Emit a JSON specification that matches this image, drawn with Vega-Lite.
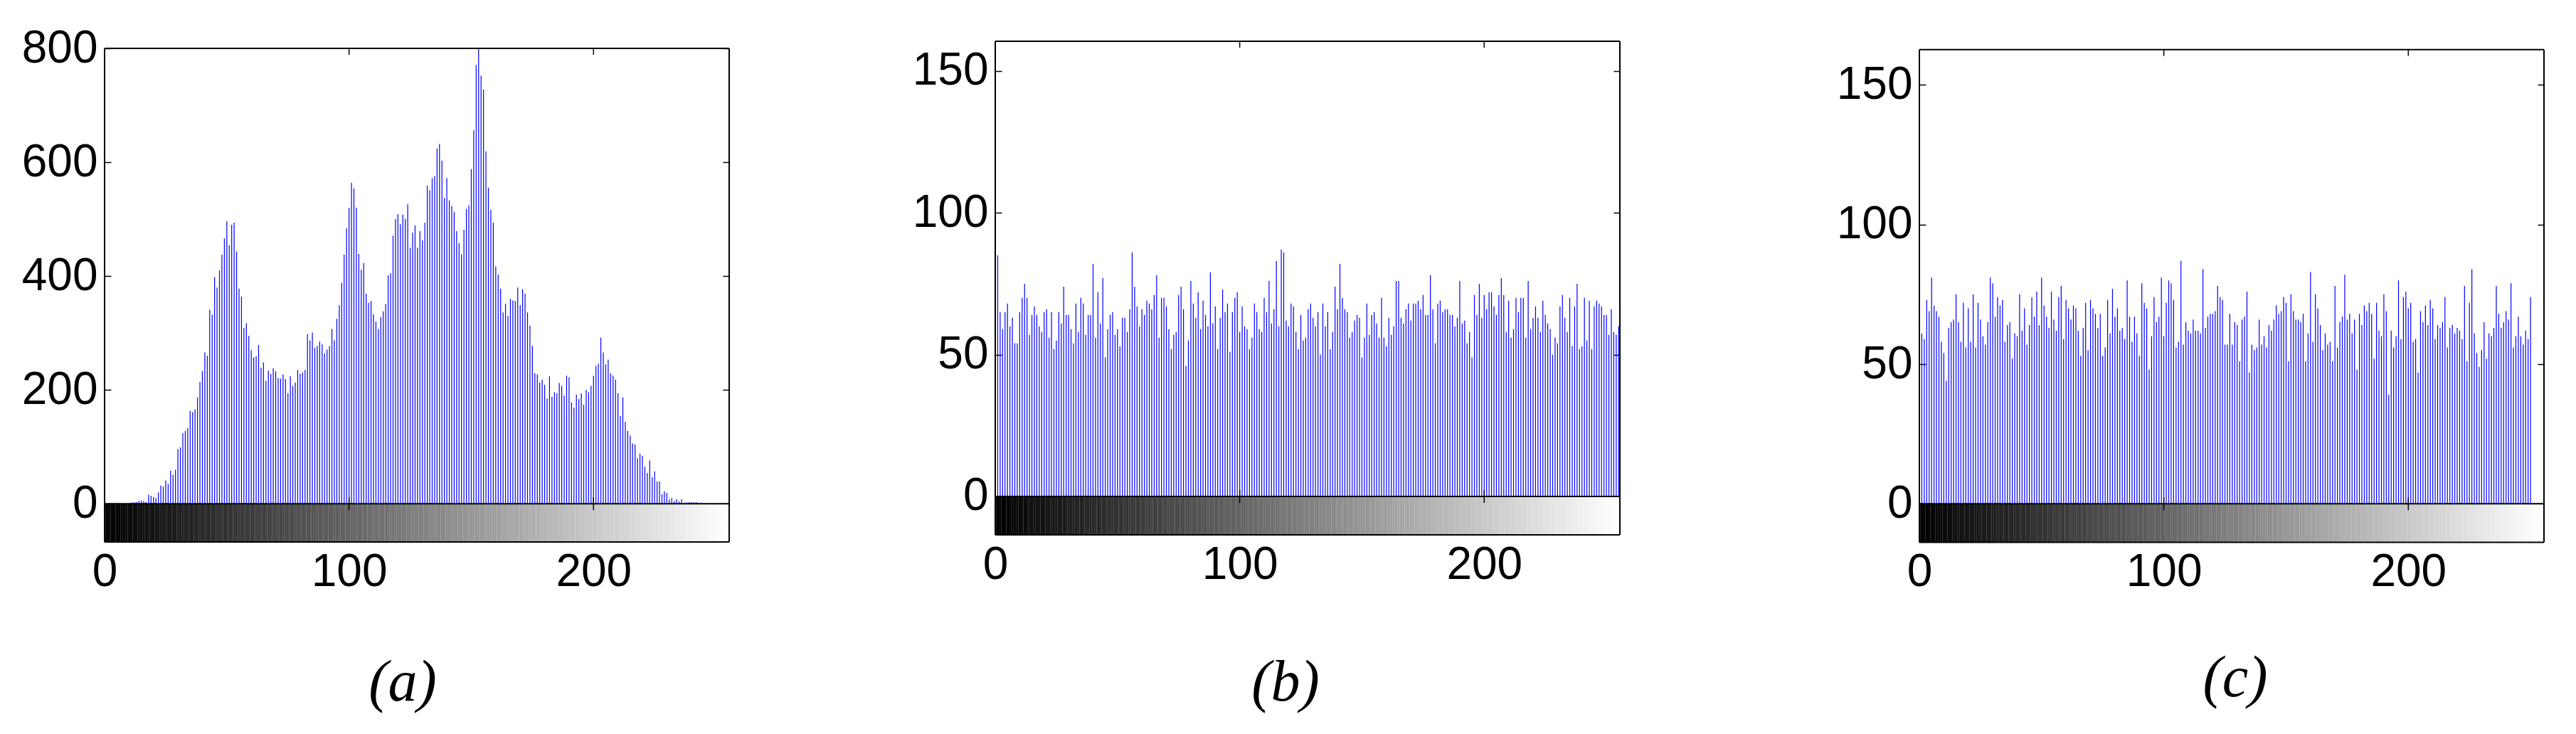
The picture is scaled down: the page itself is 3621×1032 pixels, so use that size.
{
"$schema": "https://vega.github.io/schema/vega-lite/v6.json",
"padding": {"left": 30, "top": 36, "right": 5, "bottom": 5},
"background": "white",
"config": {
  "view": {"stroke": null},
  "axis": {"grid": false, "domain": false, "tickColor": "black", "tickWidth": 1.5, "labelColor": "black", "labelFont": "Liberation Sans", "labelFontSize": 64, "labelOverlap": false, "labelFlush": false, "labelBound": false}
},
"datasets": {
"xt": [{"t": 100}, {"t": 200}],
"ha": [
{"v":0,"n":0},{"v":1,"n":0},{"v":2,"n":0},{"v":3,"n":0},{"v":4,"n":1},{"v":5,"n":1},{"v":6,"n":1},{"v":7,"n":0},{"v":8,"n":0},{"v":9,"n":0},
{"v":10,"n":1},{"v":11,"n":2},{"v":12,"n":3},{"v":13,"n":3},{"v":14,"n":5},{"v":15,"n":6},{"v":16,"n":5},{"v":17,"n":3},{"v":18,"n":16},{"v":19,"n":14},
{"v":20,"n":12},{"v":21,"n":10},{"v":22,"n":20},{"v":23,"n":32},{"v":24,"n":30},{"v":25,"n":41},{"v":26,"n":35},{"v":27,"n":58},{"v":28,"n":51},{"v":29,"n":60},
{"v":30,"n":96},{"v":31,"n":99},{"v":32,"n":124},{"v":33,"n":128},{"v":34,"n":133},{"v":35,"n":163},{"v":36,"n":161},{"v":37,"n":166},{"v":38,"n":187},{"v":39,"n":214},
{"v":40,"n":233},{"v":41,"n":266},{"v":42,"n":260},{"v":43,"n":341},{"v":44,"n":332},{"v":45,"n":398},{"v":46,"n":380},{"v":47,"n":410},{"v":48,"n":438},{"v":49,"n":466},
{"v":50,"n":496},{"v":51,"n":454},{"v":52,"n":490},{"v":53,"n":494},{"v":54,"n":443},{"v":55,"n":378},{"v":56,"n":364},{"v":57,"n":309},{"v":58,"n":317},{"v":59,"n":295},
{"v":60,"n":270},{"v":61,"n":257},{"v":62,"n":259},{"v":63,"n":279},{"v":64,"n":239},{"v":65,"n":248},{"v":66,"n":216},{"v":67,"n":234},{"v":68,"n":228},{"v":69,"n":238},
{"v":70,"n":233},{"v":71,"n":221},{"v":72,"n":220},{"v":73,"n":227},{"v":74,"n":219},{"v":75,"n":194},{"v":76,"n":224},{"v":77,"n":207},{"v":78,"n":213},{"v":79,"n":235},
{"v":80,"n":228},{"v":81,"n":231},{"v":82,"n":235},{"v":83,"n":298},{"v":84,"n":287},{"v":85,"n":301},{"v":86,"n":274},{"v":87,"n":277},{"v":88,"n":285},{"v":89,"n":280},
{"v":90,"n":264},{"v":91,"n":271},{"v":92,"n":277},{"v":93,"n":307},{"v":94,"n":287},{"v":95,"n":325},{"v":96,"n":349},{"v":97,"n":388},{"v":98,"n":438},{"v":99,"n":484},
{"v":100,"n":520},{"v":101,"n":564},{"v":102,"n":554},{"v":103,"n":520},{"v":104,"n":439},{"v":105,"n":411},{"v":106,"n":423},{"v":107,"n":369},{"v":108,"n":353},{"v":109,"n":356},
{"v":110,"n":333},{"v":111,"n":320},{"v":112,"n":307},{"v":113,"n":328},{"v":114,"n":338},{"v":115,"n":351},{"v":116,"n":401},{"v":117,"n":405},{"v":118,"n":471},{"v":119,"n":500},
{"v":120,"n":509},{"v":121,"n":491},{"v":122,"n":508},{"v":123,"n":500},{"v":124,"n":526},{"v":125,"n":450},{"v":126,"n":476},{"v":127,"n":489},{"v":128,"n":450},{"v":129,"n":479},
{"v":130,"n":463},{"v":131,"n":494},{"v":132,"n":559},{"v":133,"n":551},{"v":134,"n":572},{"v":135,"n":575},{"v":136,"n":624},{"v":137,"n":632},{"v":138,"n":603},{"v":139,"n":537},
{"v":140,"n":572},{"v":141,"n":533},{"v":142,"n":523},{"v":143,"n":513},{"v":144,"n":479},{"v":145,"n":458},{"v":146,"n":438},{"v":147,"n":481},{"v":148,"n":518},{"v":149,"n":524},
{"v":150,"n":588},{"v":151,"n":656},{"v":152,"n":771},{"v":153,"n":800},{"v":154,"n":752},{"v":155,"n":728},{"v":156,"n":619},{"v":157,"n":555},{"v":158,"n":516},{"v":159,"n":494},
{"v":160,"n":417},{"v":161,"n":403},{"v":162,"n":378},{"v":163,"n":336},{"v":164,"n":351},{"v":165,"n":330},{"v":166,"n":360},{"v":167,"n":357},{"v":168,"n":356},{"v":169,"n":380},
{"v":170,"n":349},{"v":171,"n":377},{"v":172,"n":369},{"v":173,"n":336},{"v":174,"n":313},{"v":175,"n":277},{"v":176,"n":229},{"v":177,"n":227},{"v":178,"n":213},{"v":179,"n":218},
{"v":180,"n":209},{"v":181,"n":185},{"v":182,"n":224},{"v":183,"n":188},{"v":184,"n":196},{"v":185,"n":194},{"v":186,"n":212},{"v":187,"n":207},{"v":188,"n":190},{"v":189,"n":225},
{"v":190,"n":222},{"v":191,"n":178},{"v":192,"n":169},{"v":193,"n":192},{"v":194,"n":184},{"v":195,"n":194},{"v":196,"n":174},{"v":197,"n":200},{"v":198,"n":196},{"v":199,"n":207},
{"v":200,"n":225},{"v":201,"n":242},{"v":202,"n":246},{"v":203,"n":292},{"v":204,"n":266},{"v":205,"n":245},{"v":206,"n":253},{"v":207,"n":229},{"v":208,"n":225},{"v":209,"n":218},
{"v":210,"n":194},{"v":211,"n":154},{"v":212,"n":187},{"v":213,"n":144},{"v":214,"n":128},{"v":215,"n":120},{"v":216,"n":106},{"v":217,"n":104},{"v":218,"n":80},{"v":219,"n":88},
{"v":220,"n":84},{"v":221,"n":65},{"v":222,"n":54},{"v":223,"n":76},{"v":224,"n":47},{"v":225,"n":57},{"v":226,"n":39},{"v":227,"n":39},{"v":228,"n":17},{"v":229,"n":22},
{"v":230,"n":19},{"v":231,"n":8},{"v":232,"n":10},{"v":233,"n":5},{"v":234,"n":8},{"v":235,"n":4},{"v":236,"n":8},{"v":237,"n":1},{"v":238,"n":3},{"v":239,"n":3},
{"v":240,"n":3},{"v":241,"n":3},{"v":242,"n":3},{"v":243,"n":1},{"v":244,"n":2},{"v":245,"n":0},{"v":246,"n":0},{"v":247,"n":0},{"v":248,"n":0},{"v":249,"n":0},
{"v":250,"n":0},{"v":251,"n":0},{"v":252,"n":0},{"v":253,"n":0},{"v":254,"n":0},{"v":255,"n":0}
],
"hb": [
{"v":0,"n":65},{"v":1,"n":85},{"v":2,"n":65},{"v":3,"n":59},{"v":4,"n":65},{"v":5,"n":68},{"v":6,"n":60},{"v":7,"n":63},{"v":8,"n":54},{"v":9,"n":54},
{"v":10,"n":65},{"v":11,"n":70},{"v":12,"n":75},{"v":13,"n":70},{"v":14,"n":57},{"v":15,"n":64},{"v":16,"n":67},{"v":17,"n":64},{"v":18,"n":60},{"v":19,"n":58},
{"v":20,"n":65},{"v":21,"n":66},{"v":22,"n":56},{"v":23,"n":65},{"v":24,"n":52},{"v":25,"n":55},{"v":26,"n":65},{"v":27,"n":61},{"v":28,"n":74},{"v":29,"n":64},
{"v":30,"n":64},{"v":31,"n":59},{"v":32,"n":54},{"v":33,"n":68},{"v":34,"n":58},{"v":35,"n":70},{"v":36,"n":68},{"v":37,"n":57},{"v":38,"n":64},{"v":39,"n":64},
{"v":40,"n":82},{"v":41,"n":56},{"v":42,"n":72},{"v":43,"n":61},{"v":44,"n":77},{"v":45,"n":49},{"v":46,"n":59},{"v":47,"n":64},{"v":48,"n":65},{"v":49,"n":57},
{"v":50,"n":59},{"v":51,"n":53},{"v":52,"n":63},{"v":53,"n":63},{"v":54,"n":58},{"v":55,"n":66},{"v":56,"n":86},{"v":57,"n":74},{"v":58,"n":67},{"v":59,"n":60},
{"v":60,"n":66},{"v":61,"n":64},{"v":62,"n":69},{"v":63,"n":68},{"v":64,"n":66},{"v":65,"n":71},{"v":66,"n":78},{"v":67,"n":56},{"v":68,"n":70},{"v":69,"n":70},
{"v":70,"n":67},{"v":71,"n":59},{"v":72,"n":52},{"v":73,"n":57},{"v":74,"n":58},{"v":75,"n":71},{"v":76,"n":74},{"v":77,"n":66},{"v":78,"n":46},{"v":79,"n":55},
{"v":80,"n":76},{"v":81,"n":68},{"v":82,"n":63},{"v":83,"n":72},{"v":84,"n":59},{"v":85,"n":69},{"v":86,"n":64},{"v":87,"n":60},{"v":88,"n":79},{"v":89,"n":61},
{"v":90,"n":67},{"v":91,"n":52},{"v":92,"n":63},{"v":93,"n":73},{"v":94,"n":65},{"v":95,"n":68},{"v":96,"n":51},{"v":97,"n":65},{"v":98,"n":70},{"v":99,"n":72},
{"v":100,"n":58},{"v":101,"n":67},{"v":102,"n":60},{"v":103,"n":59},{"v":104,"n":52},{"v":105,"n":56},{"v":106,"n":68},{"v":107,"n":65},{"v":108,"n":59},{"v":109,"n":58},
{"v":110,"n":70},{"v":111,"n":65},{"v":112,"n":76},{"v":113,"n":61},{"v":114,"n":66},{"v":115,"n":83},{"v":116,"n":60},{"v":117,"n":87},{"v":118,"n":86},{"v":119,"n":62},
{"v":120,"n":60},{"v":121,"n":68},{"v":122,"n":67},{"v":123,"n":58},{"v":124,"n":52},{"v":125,"n":64},{"v":126,"n":55},{"v":127,"n":56},{"v":128,"n":66},{"v":129,"n":68},
{"v":130,"n":63},{"v":131,"n":60},{"v":132,"n":65},{"v":133,"n":50},{"v":134,"n":68},{"v":135,"n":60},{"v":136,"n":65},{"v":137,"n":52},{"v":138,"n":58},{"v":139,"n":74},
{"v":140,"n":66},{"v":141,"n":82},{"v":142,"n":70},{"v":143,"n":66},{"v":144,"n":65},{"v":145,"n":56},{"v":146,"n":58},{"v":147,"n":62},{"v":148,"n":64},{"v":149,"n":63},
{"v":150,"n":49},{"v":151,"n":56},{"v":152,"n":68},{"v":153,"n":57},{"v":154,"n":64},{"v":155,"n":65},{"v":156,"n":61},{"v":157,"n":56},{"v":158,"n":70},{"v":159,"n":56},
{"v":160,"n":53},{"v":161,"n":63},{"v":162,"n":57},{"v":163,"n":60},{"v":164,"n":76},{"v":165,"n":76},{"v":166,"n":63},{"v":167,"n":61},{"v":168,"n":66},{"v":169,"n":68},
{"v":170,"n":62},{"v":171,"n":68},{"v":172,"n":68},{"v":173,"n":69},{"v":174,"n":66},{"v":175,"n":71},{"v":176,"n":64},{"v":177,"n":64},{"v":178,"n":78},{"v":179,"n":66},
{"v":180,"n":54},{"v":181,"n":68},{"v":182,"n":69},{"v":183,"n":65},{"v":184,"n":66},{"v":185,"n":66},{"v":186,"n":64},{"v":187,"n":64},{"v":188,"n":60},{"v":189,"n":63},
{"v":190,"n":76},{"v":191,"n":61},{"v":192,"n":62},{"v":193,"n":54},{"v":194,"n":58},{"v":195,"n":49},{"v":196,"n":71},{"v":197,"n":64},{"v":198,"n":75},{"v":199,"n":63},
{"v":200,"n":71},{"v":201,"n":66},{"v":202,"n":72},{"v":203,"n":72},{"v":204,"n":67},{"v":205,"n":64},{"v":206,"n":71},{"v":207,"n":77},{"v":208,"n":71},{"v":209,"n":58},
{"v":210,"n":69},{"v":211,"n":56},{"v":212,"n":59},{"v":213,"n":70},{"v":214,"n":65},{"v":215,"n":70},{"v":216,"n":70},{"v":217,"n":56},{"v":218,"n":76},{"v":219,"n":59},
{"v":220,"n":63},{"v":221,"n":67},{"v":222,"n":63},{"v":223,"n":58},{"v":224,"n":69},{"v":225,"n":64},{"v":226,"n":61},{"v":227,"n":59},{"v":228,"n":50},{"v":229,"n":56},
{"v":230,"n":54},{"v":231,"n":67},{"v":232,"n":71},{"v":233,"n":63},{"v":234,"n":58},{"v":235,"n":70},{"v":236,"n":53},{"v":237,"n":67},{"v":238,"n":75},{"v":239,"n":52},
{"v":240,"n":53},{"v":241,"n":70},{"v":242,"n":55},{"v":243,"n":69},{"v":244,"n":52},{"v":245,"n":67},{"v":246,"n":69},{"v":247,"n":68},{"v":248,"n":67},{"v":249,"n":64},
{"v":250,"n":64},{"v":251,"n":57},{"v":252,"n":66},{"v":253,"n":58},{"v":254,"n":57},{"v":255,"n":60}
],
"hc": [
{"v":0,"n":67},{"v":1,"n":61},{"v":2,"n":59},{"v":3,"n":73},{"v":4,"n":69},{"v":5,"n":81},{"v":6,"n":71},{"v":7,"n":69},{"v":8,"n":67},{"v":9,"n":58},
{"v":10,"n":54},{"v":11,"n":44},{"v":12,"n":63},{"v":13,"n":65},{"v":14,"n":66},{"v":15,"n":75},{"v":16,"n":65},{"v":17,"n":58},{"v":18,"n":72},{"v":19,"n":56},
{"v":20,"n":70},{"v":21,"n":58},{"v":22,"n":75},{"v":23,"n":56},{"v":24,"n":72},{"v":25,"n":66},{"v":26,"n":60},{"v":27,"n":57},{"v":28,"n":65},{"v":29,"n":81},
{"v":30,"n":79},{"v":31,"n":67},{"v":32,"n":74},{"v":33,"n":71},{"v":34,"n":73},{"v":35,"n":58},{"v":36,"n":64},{"v":37,"n":65},{"v":38,"n":52},{"v":39,"n":61},
{"v":40,"n":60},{"v":41,"n":75},{"v":42,"n":62},{"v":43,"n":70},{"v":44,"n":57},{"v":45,"n":64},{"v":46,"n":74},{"v":47,"n":67},{"v":48,"n":76},{"v":49,"n":64},
{"v":50,"n":81},{"v":51,"n":71},{"v":52,"n":67},{"v":53,"n":63},{"v":54,"n":76},{"v":55,"n":66},{"v":56,"n":62},{"v":57,"n":74},{"v":58,"n":78},{"v":59,"n":59},
{"v":60,"n":73},{"v":61,"n":70},{"v":62,"n":66},{"v":63,"n":71},{"v":64,"n":70},{"v":65,"n":62},{"v":66,"n":53},{"v":67,"n":63},{"v":68,"n":72},{"v":69,"n":55},
{"v":70,"n":73},{"v":71,"n":70},{"v":72,"n":68},{"v":73,"n":63},{"v":74,"n":68},{"v":75,"n":53},{"v":76,"n":56},{"v":77,"n":73},{"v":78,"n":61},{"v":79,"n":77},
{"v":80,"n":67},{"v":81,"n":70},{"v":82,"n":62},{"v":83,"n":63},{"v":84,"n":59},{"v":85,"n":80},{"v":86,"n":67},{"v":87,"n":58},{"v":88,"n":67},{"v":89,"n":61},
{"v":90,"n":53},{"v":91,"n":79},{"v":92,"n":72},{"v":93,"n":70},{"v":94,"n":48},{"v":95,"n":60},{"v":96,"n":74},{"v":97,"n":65},{"v":98,"n":67},{"v":99,"n":81},
{"v":100,"n":60},{"v":101,"n":72},{"v":102,"n":80},{"v":103,"n":79},{"v":104,"n":73},{"v":105,"n":56},{"v":106,"n":58},{"v":107,"n":87},{"v":108,"n":57},{"v":109,"n":65},
{"v":110,"n":62},{"v":111,"n":61},{"v":112,"n":66},{"v":113,"n":62},{"v":114,"n":62},{"v":115,"n":61},{"v":116,"n":84},{"v":117,"n":63},{"v":118,"n":67},{"v":119,"n":68},
{"v":120,"n":68},{"v":121,"n":69},{"v":122,"n":78},{"v":123,"n":74},{"v":124,"n":73},{"v":125,"n":57},{"v":126,"n":57},{"v":127,"n":68},{"v":128,"n":57},{"v":129,"n":65},
{"v":130,"n":64},{"v":131,"n":51},{"v":132,"n":66},{"v":133,"n":67},{"v":134,"n":76},{"v":135,"n":47},{"v":136,"n":57},{"v":137,"n":55},{"v":138,"n":56},{"v":139,"n":66},
{"v":140,"n":57},{"v":141,"n":60},{"v":142,"n":56},{"v":143,"n":64},{"v":144,"n":62},{"v":145,"n":66},{"v":146,"n":71},{"v":147,"n":68},{"v":148,"n":69},{"v":149,"n":74},
{"v":150,"n":72},{"v":151,"n":51},{"v":152,"n":75},{"v":153,"n":69},{"v":154,"n":66},{"v":155,"n":66},{"v":156,"n":65},{"v":157,"n":68},{"v":158,"n":51},{"v":159,"n":61},
{"v":160,"n":83},{"v":161,"n":58},{"v":162,"n":75},{"v":163,"n":70},{"v":164,"n":64},{"v":165,"n":55},{"v":166,"n":61},{"v":167,"n":57},{"v":168,"n":58},{"v":169,"n":51},
{"v":170,"n":78},{"v":171,"n":56},{"v":172,"n":65},{"v":173,"n":67},{"v":174,"n":82},{"v":175,"n":66},{"v":176,"n":68},{"v":177,"n":61},{"v":178,"n":66},{"v":179,"n":48},
{"v":180,"n":68},{"v":181,"n":64},{"v":182,"n":71},{"v":183,"n":69},{"v":184,"n":72},{"v":185,"n":68},{"v":186,"n":52},{"v":187,"n":72},{"v":188,"n":62},{"v":189,"n":60},
{"v":190,"n":75},{"v":191,"n":69},{"v":192,"n":39},{"v":193,"n":62},{"v":194,"n":56},{"v":195,"n":60},{"v":196,"n":80},{"v":197,"n":59},{"v":198,"n":74},{"v":199,"n":76},
{"v":200,"n":70},{"v":201,"n":72},{"v":202,"n":58},{"v":203,"n":59},{"v":204,"n":47},{"v":205,"n":69},{"v":206,"n":65},{"v":207,"n":71},{"v":208,"n":64},{"v":209,"n":73},
{"v":210,"n":70},{"v":211,"n":59},{"v":212,"n":64},{"v":213,"n":63},{"v":214,"n":65},{"v":215,"n":74},{"v":216,"n":56},{"v":217,"n":63},{"v":218,"n":64},{"v":219,"n":61},
{"v":220,"n":63},{"v":221,"n":62},{"v":222,"n":59},{"v":223,"n":78},{"v":224,"n":51},{"v":225,"n":72},{"v":226,"n":84},{"v":227,"n":61},{"v":228,"n":54},{"v":229,"n":49},
{"v":230,"n":55},{"v":231,"n":65},{"v":232,"n":52},{"v":233,"n":61},{"v":234,"n":60},{"v":235,"n":63},{"v":236,"n":78},{"v":237,"n":68},{"v":238,"n":63},{"v":239,"n":65},
{"v":240,"n":69},{"v":241,"n":66},{"v":242,"n":79},{"v":243,"n":56},{"v":244,"n":60},{"v":245,"n":67},{"v":246,"n":60},{"v":247,"n":57},{"v":248,"n":62},{"v":249,"n":59},
{"v":250,"n":74},{"v":251,"n":0},{"v":252,"n":0},{"v":253,"n":0},{"v":254,"n":0},{"v":255,"n":0}
]
},
"bounds": "flush",
"spacing": 0,
"hconcat": [
{
  "width": 878, "height": 704,
  "data": {"name": "ha"},
  "title": {"text": "(a)", "orient": "bottom", "frame": "group", "anchor": "middle", "dx": -20, "offset": 83.6, "font": "Liberation Serif", "fontStyle": "italic", "fontWeight": "normal", "fontSize": 82, "color": "black"},
  "resolve": {"axis": {"x": "independent", "y": "independent"}},
  "layer": [
    {"mark": {"type": "rule", "strokeWidth": 3.6, "strokeCap": "butt", "clip": true},
     "encoding": {
       "x": {"field": "v", "type": "quantitative", "scale": {"domain": [0, 255.5], "nice": false, "zero": false}, "axis": {"orient": "bottom", "values": [0, 100, 200], "tickSize": -9, "labelPadding": 19.3, "title": null}},
       "y": {"datum": -67.1, "type": "quantitative", "scale": {"domain": [-67.1, 812.5], "nice": false, "zero": false}, "axis": {"orient": "left", "values": [0, 200, 400, 600, 800], "tickSize": -9, "labelPadding": 19, "title": null}},
       "y2": {"datum": 0},
       "color": {"field": "v", "type": "quantitative", "scale": {"domain": [0, 255], "range": ["#000000", "#ffffff"], "interpolate": "rgb"}, "legend": null}
     }},
    {"mark": {"type": "rule", "color": "#0000ff", "strokeWidth": 1.2},
     "encoding": {
       "x": {"field": "v", "type": "quantitative", "axis": null},
       "y": {"field": "n", "type": "quantitative", "scale": {"domain": [-67.1, 812.5], "nice": false, "zero": false}, "axis": {"orient": "right", "values": [-33.5, 0, 200, 400, 600, 800], "tickSize": -9, "labels": false, "title": null}},
       "y2": {"datum": 0}
     }},
    {"data": {"values": [{}]}, "mark": {"type": "rule", "color": "black", "strokeWidth": 2},
     "encoding": {"y": {"datum": 0, "type": "quantitative", "axis": null}}},
    {"data": {"values": [{}]}, "mark": {"type": "rule", "color": "black", "strokeWidth": 2},
     "encoding": {"y": {"datum": 800, "type": "quantitative", "axis": null}}},
    {"data": {"values": [{}]}, "mark": {"type": "rule", "color": "black", "strokeWidth": 2},
     "encoding": {"y": {"datum": -67.1, "type": "quantitative", "axis": null}}},
    {"data": {"values": [{}]}, "mark": {"type": "rule", "color": "black", "strokeWidth": 2},
     "encoding": {"x": {"datum": 0, "type": "quantitative", "axis": null}, "y": {"datum": -67.1, "type": "quantitative", "axis": null}, "y2": {"datum": 800}}},
    {"data": {"values": [{}]}, "mark": {"type": "rule", "color": "black", "strokeWidth": 2},
     "encoding": {"x": {"datum": 255.5, "type": "quantitative", "axis": null}, "y": {"datum": -67.1, "type": "quantitative", "axis": null}, "y2": {"datum": 800}}},
    {"data": {"name": "xt"}, "mark": {"type": "rule", "color": "black", "strokeWidth": 1.5},
     "encoding": {"x": {"field": "t", "type": "quantitative", "axis": null}, "y": {"datum": 800, "type": "quantitative", "axis": null}, "y2": {"datum": 788.75}}},
    {"data": {"name": "xt"}, "mark": {"type": "rule", "color": "black", "strokeWidth": 1.5},
     "encoding": {"x": {"field": "t", "type": "quantitative", "axis": null}, "y": {"datum": 11.25, "type": "quantitative", "axis": null}, "y2": {"datum": -11.25}}}
  ]
},
{"width": 373.6, "height": 10, "data": {"values": [{}]}, "mark": {"type": "point", "opacity": 0}},
{
  "width": 878, "height": 694,
  "data": {"name": "hb"},
  "title": {"text": "(b)", "orient": "bottom", "frame": "group", "anchor": "middle", "dx": -31, "offset": 93.6, "font": "Liberation Serif", "fontStyle": "italic", "fontWeight": "normal", "fontSize": 82, "color": "black"},
  "resolve": {"axis": {"x": "independent", "y": "independent"}},
  "layer": [
    {"mark": {"type": "rule", "strokeWidth": 3.6, "strokeCap": "butt", "clip": true},
     "encoding": {
       "x": {"field": "v", "type": "quantitative", "scale": {"domain": [0, 255.5], "nice": false, "zero": false}, "axis": {"orient": "bottom", "values": [0, 100, 200], "tickSize": -9, "labelPadding": 19.3, "title": null}},
       "y": {"datum": -13.55, "type": "quantitative", "scale": {"domain": [-13.55, 160.5], "nice": false, "zero": false}, "axis": {"orient": "left", "values": [0, 50, 100, 150], "tickSize": -9, "labelPadding": 19, "title": null}},
       "y2": {"datum": 0},
       "color": {"field": "v", "type": "quantitative", "scale": {"domain": [0, 255], "range": ["#000000", "#ffffff"], "interpolate": "rgb"}, "legend": null}
     }},
    {"mark": {"type": "rule", "color": "#0000ff", "strokeWidth": 1.2},
     "encoding": {
       "x": {"field": "v", "type": "quantitative", "axis": null},
       "y": {"field": "n", "type": "quantitative", "scale": {"domain": [-13.55, 160.5], "nice": false, "zero": false}, "axis": {"orient": "right", "values": [-6.8, 0, 50, 100, 150], "tickSize": -9, "labels": false, "title": null}},
       "y2": {"datum": 0}
     }},
    {"data": {"values": [{}]}, "mark": {"type": "rule", "color": "black", "strokeWidth": 2},
     "encoding": {"y": {"datum": 0, "type": "quantitative", "axis": null}}},
    {"data": {"values": [{}]}, "mark": {"type": "rule", "color": "black", "strokeWidth": 2},
     "encoding": {"y": {"datum": 160.5, "type": "quantitative", "axis": null}}},
    {"data": {"values": [{}]}, "mark": {"type": "rule", "color": "black", "strokeWidth": 2},
     "encoding": {"y": {"datum": -13.55, "type": "quantitative", "axis": null}}},
    {"data": {"values": [{}]}, "mark": {"type": "rule", "color": "black", "strokeWidth": 2},
     "encoding": {"x": {"datum": 0, "type": "quantitative", "axis": null}, "y": {"datum": -13.55, "type": "quantitative", "axis": null}, "y2": {"datum": 160.5}}},
    {"data": {"values": [{}]}, "mark": {"type": "rule", "color": "black", "strokeWidth": 2},
     "encoding": {"x": {"datum": 255.5, "type": "quantitative", "axis": null}, "y": {"datum": -13.55, "type": "quantitative", "axis": null}, "y2": {"datum": 160.5}}},
    {"data": {"name": "xt"}, "mark": {"type": "rule", "color": "black", "strokeWidth": 1.5},
     "encoding": {"x": {"field": "t", "type": "quantitative", "axis": null}, "y": {"datum": 160.5, "type": "quantitative", "axis": null}, "y2": {"datum": 158.24}}},
    {"data": {"name": "xt"}, "mark": {"type": "rule", "color": "black", "strokeWidth": 1.5},
     "encoding": {"x": {"field": "t", "type": "quantitative", "axis": null}, "y": {"datum": 2.26, "type": "quantitative", "axis": null}, "y2": {"datum": -2.26}}}
  ]
},
{"width": 421, "height": 10, "data": {"values": [{}]}, "mark": {"type": "point", "opacity": 0}},
{
  "width": 878, "height": 704.4,
  "data": {"name": "hc"},
  "title": {"text": "(c)", "orient": "bottom", "frame": "group", "anchor": "middle", "dx": 5, "offset": 76.8, "font": "Liberation Serif", "fontStyle": "italic", "fontWeight": "normal", "fontSize": 82, "color": "black"},
  "resolve": {"axis": {"x": "independent", "y": "independent"}},
  "layer": [
    {"mark": {"type": "rule", "strokeWidth": 3.6, "strokeCap": "butt", "clip": true},
     "encoding": {
       "x": {"field": "v", "type": "quantitative", "scale": {"domain": [0, 255.5], "nice": false, "zero": false}, "axis": {"orient": "bottom", "values": [0, 100, 200], "tickSize": -9, "labelPadding": 19.3, "title": null}},
       "y": {"datum": -13.78, "type": "quantitative", "scale": {"domain": [-13.78, 165.64], "nice": false, "zero": false}, "axis": {"orient": "left", "values": [0, 50, 100, 150], "tickSize": -9, "labelPadding": 19, "title": null}},
       "y2": {"datum": 0},
       "color": {"field": "v", "type": "quantitative", "scale": {"domain": [0, 255], "range": ["#000000", "#ffffff"], "interpolate": "rgb"}, "legend": null}
     }},
    {"mark": {"type": "rule", "color": "#0000ff", "strokeWidth": 1.2},
     "encoding": {
       "x": {"field": "v", "type": "quantitative", "axis": null},
       "y": {"field": "n", "type": "quantitative", "scale": {"domain": [-13.78, 165.64], "nice": false, "zero": false}, "axis": {"orient": "right", "values": [-6.9, 0, 50, 100, 150], "tickSize": -9, "labels": false, "title": null}},
       "y2": {"datum": 0}
     }},
    {"data": {"values": [{}]}, "mark": {"type": "rule", "color": "black", "strokeWidth": 2},
     "encoding": {"y": {"datum": 0, "type": "quantitative", "axis": null}}},
    {"data": {"values": [{}]}, "mark": {"type": "rule", "color": "black", "strokeWidth": 2},
     "encoding": {"y": {"datum": 162.66, "type": "quantitative", "axis": null}}},
    {"data": {"values": [{}]}, "mark": {"type": "rule", "color": "black", "strokeWidth": 2},
     "encoding": {"y": {"datum": -13.78, "type": "quantitative", "axis": null}}},
    {"data": {"values": [{}]}, "mark": {"type": "rule", "color": "black", "strokeWidth": 2},
     "encoding": {"x": {"datum": 0, "type": "quantitative", "axis": null}, "y": {"datum": -13.78, "type": "quantitative", "axis": null}, "y2": {"datum": 162.66}}},
    {"data": {"values": [{}]}, "mark": {"type": "rule", "color": "black", "strokeWidth": 2},
     "encoding": {"x": {"datum": 255.5, "type": "quantitative", "axis": null}, "y": {"datum": -13.78, "type": "quantitative", "axis": null}, "y2": {"datum": 162.66}}},
    {"data": {"name": "xt"}, "mark": {"type": "rule", "color": "black", "strokeWidth": 1.5},
     "encoding": {"x": {"field": "t", "type": "quantitative", "axis": null}, "y": {"datum": 162.66, "type": "quantitative", "axis": null}, "y2": {"datum": 160.37}}},
    {"data": {"name": "xt"}, "mark": {"type": "rule", "color": "black", "strokeWidth": 1.5},
     "encoding": {"x": {"field": "t", "type": "quantitative", "axis": null}, "y": {"datum": 2.29, "type": "quantitative", "axis": null}, "y2": {"datum": -2.29}}}
  ]
}
]
}
